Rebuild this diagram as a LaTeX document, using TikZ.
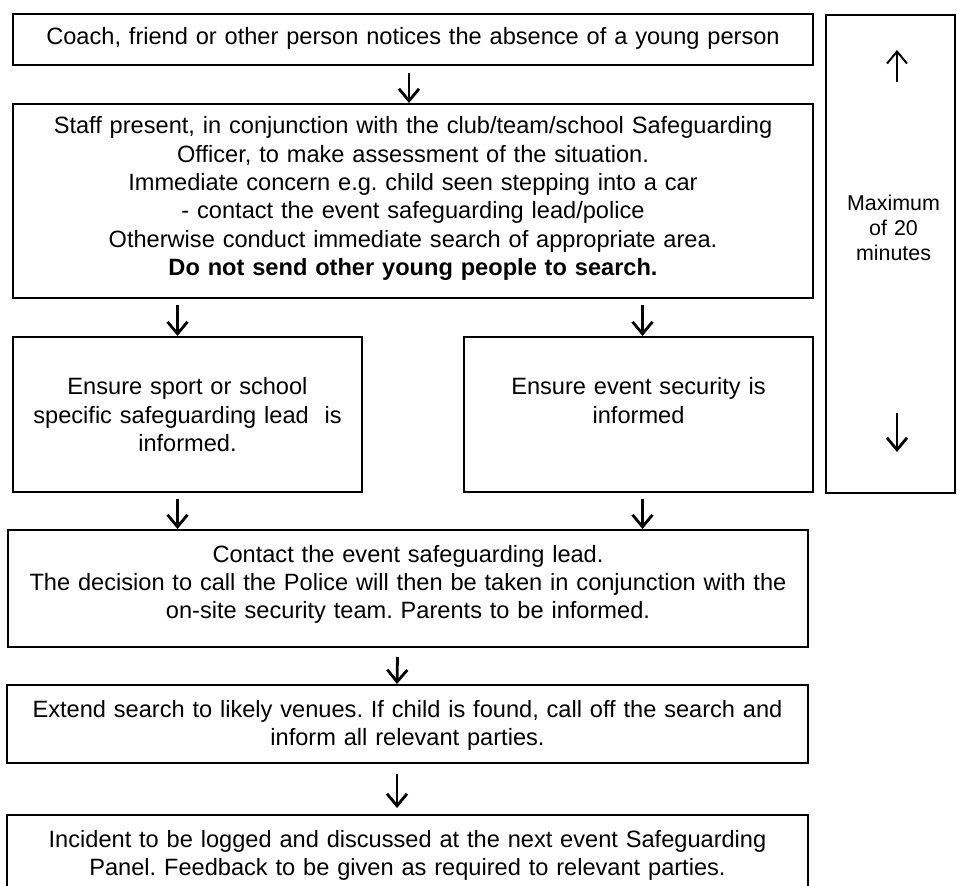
\documentclass[tikz,border=0pt]{standalone}
\usepackage{fontspec}
\setmainfont{Liberation Sans}
\frenchspacing
\usepackage{tikz}
\usetikzlibrary{arrows.meta}

\begin{document}
\begin{tikzpicture}[x=0.5pt, y=-0.5pt,
    flowbox/.style={draw, line width=1pt, align=center, inner xsep=0pt, inner ysep=0pt,
      font=\fontsize{11.8}{14.15}\selectfont},
    flow/.style={-{Straight Barb[length=6pt, width=10pt]}, line width=1.4pt}]
                  \useasboundingbox (0,0) rectangle (957,886);

                  % Draw boxes
                  \node[flowbox, anchor=north, text width=400pt, text height=15.5pt, text depth=10pt] (notice) at (413,13)
                    {Coach, friend or other person notices the absence of a young person};
                  \node[flowbox, anchor=north, text width=400pt, text height=15pt, text depth=82pt] (assess) at (413,103)
                    {Staff present, in conjunction with the club/team/school Safeguarding\\
                     Officer, to make assessment of the situation.\\
                     Immediate concern e.g. child seen stepping into a car\\
                     - contact the event safeguarding lead/police\\
                     Otherwise conduct immediate search of appropriate area.\\
                     \textbf{Do not send other young people to search.}};
                  \node[flowbox, anchor=north, text width=174.5pt, text height=29pt, text depth=48.5pt] (sportlead) at (187.5,336)
                    {Ensure sport or school\\specific safeguarding lead~ is\\informed.};
                  \node[flowbox, anchor=north, text width=174.5pt, text height=29pt, text depth=48.5pt] (security) at (638.5,336)
                    {Ensure event security is\\informed};
                  \node[flowbox, anchor=north, text width=400pt, text height=16pt, text depth=42.5pt] (eventlead) at (408,529)
                    {Contact the event safeguarding lead.\\
                     The decision to call the Police will then be taken in conjunction with the\\
                     on-site security team. Parents to be informed.};
                  \node[flowbox, anchor=north, text width=400.5pt, text height=16pt, text depth=23pt] (extend) at (407.5,684)
                    {Extend search to likely venues. If child is found, call off the search and\\
                     inform all relevant parties.};
                  \node[flowbox, anchor=north, text width=400.5pt, text height=16pt, text depth=26pt] (incident) at (407.5,814)
                    {Incident to be logged and discussed at the next event Safeguarding\\
                     Panel. Feedback to be given as required to relevant parties.};

                  % Time box on the right
                  \node[flowbox, anchor=north, text width=64.5pt, text height=97.75pt, text depth=141.25pt,
                    font=\fontsize{10.7}{12.5}\selectfont] (timelimit) at (890.5,14)
                    {\hspace*{3pt}Maximum\\\hspace*{3pt}of 20\\\hspace*{3pt}minutes};

                  % Draw arrows
                  \draw[flow] ([xshift=-2pt, yshift=-3.5pt]notice.south) -- ([xshift=-2pt]assess.north);
                  \draw[flow] ([xshift=-5pt, yshift=-3pt]assess.south -| sportlead.north) -- ([xshift=-5pt]sportlead.north);
                  \draw[flow] ([xshift=2pt, yshift=-3pt]assess.south -| security.north) -- ([xshift=2pt]security.north);
                  \draw[flow] ([xshift=-5pt, yshift=-3pt]sportlead.south) -- ([xshift=-5pt]sportlead.south |- eventlead.north);
                  \draw[flow] ([xshift=2pt, yshift=-3pt]security.south) -- ([xshift=2pt]security.south |- eventlead.north);
                  \draw[flow] ([xshift=-5.25pt, yshift=-4.5pt]eventlead.south) -- ([xshift=-5.25pt]extend.north);
                  \draw[flow] ([xshift=-5.25pt, yshift=-5pt]extend.south) -- ([xshift=-5.25pt, yshift=3pt]incident.north);

                  % Arrows inside the time box
                  \draw[flow, line width=1pt] ([xshift=3.25pt, yshift=-34pt]timelimit.north) -- ([xshift=3.25pt, yshift=-18pt]timelimit.north);
                  \draw[flow] ([xshift=3.25pt, yshift=-199.5pt]timelimit.north) -- ([xshift=3.25pt, yshift=-219pt]timelimit.north);

              \end{tikzpicture}
\end{document}
